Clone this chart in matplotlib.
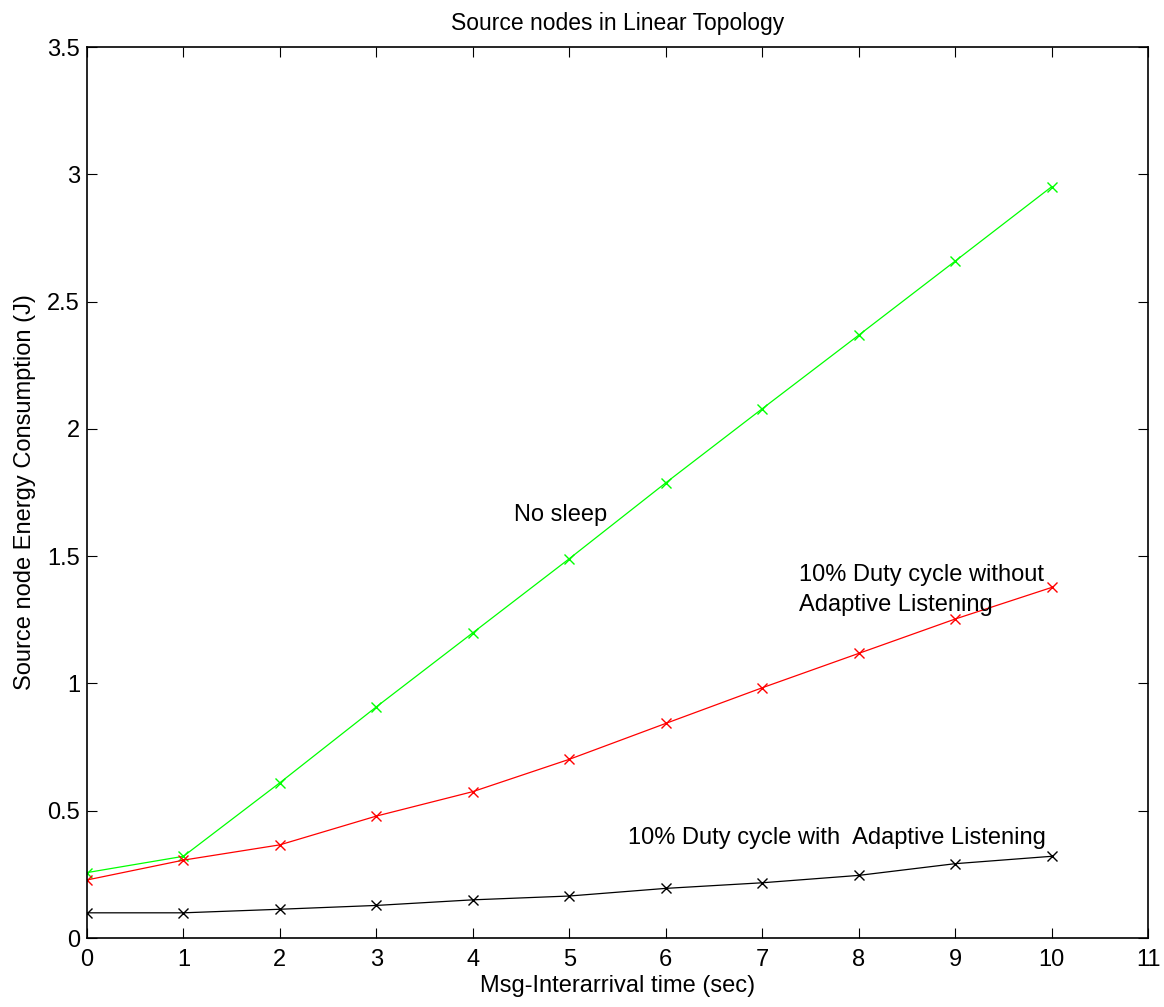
import numpy as np
import matplotlib.pyplot as plt

plt.rcParams['font.family'] = ['Liberation Sans', 'DejaVu Sans']

interarrival = np.arange(0, 11)
no_sleep = [0.257, 0.321, 0.61, 0.908, 1.199, 1.49, 1.788, 2.079, 2.368, 2.659, 2.951]
duty_no_adaptive = [0.228, 0.306, 0.366, 0.479, 0.575, 0.702, 0.843, 0.983, 1.118, 1.253, 1.377]
duty_adaptive = [0.099, 0.099, 0.113, 0.128, 0.150, 0.165, 0.195, 0.217, 0.246, 0.292, 0.321]

fig = plt.figure(figsize=(11.64, 10.07), dpi=100)
ax = fig.add_axes([0.0747, 0.0685, 0.9116, 0.8848])

ax.plot(interarrival, no_sleep, color='#00ff00', marker='x', markersize=7, lw=0.9)
ax.plot(interarrival, duty_no_adaptive, color='#ff0000', marker='x', markersize=7, lw=0.9)
ax.plot(interarrival, duty_adaptive, color='black', marker='x', markersize=7, lw=0.9)

fs = 17
ax.text(4.43, 1.66, 'No sleep', fontsize=fs, va='center')
ax.text(7.38, 1.367, '10% Duty cycle without\nAdaptive Listening', fontsize=fs,
        va='center', linespacing=1.45)
ax.text(5.61, 0.393, '10% Duty cycle with  Adaptive Listening', fontsize=fs, va='center')

ax.set_xlim(0, 11)
ax.set_ylim(0, 3.5)
ax.set_xticks(range(0, 12))
ax.set_yticks(np.arange(0, 3.51, 0.5))
ax.set_yticklabels(['0', '0.5', '1', '1.5', '2', '2.5', '3', '3.5'])
ax.tick_params(direction='in', length=7, width=0.8, top=True, right=True,
               labelsize=fs)
ax.tick_params(axis='x', pad=8)
ax.tick_params(axis='y', pad=5)
for s in ax.spines.values():
    s.set_linewidth(1.2)

ax.set_title('Source nodes in Linear Topology', fontsize=16.5, pad=12)
ax.set_xlabel('Msg-Interarrival time (sec)', fontsize=fs, labelpad=3)
ax.set_ylabel('Source node Energy Consumption (J)', fontsize=fs, labelpad=8)

fig.savefig('out.png', dpi=100)
